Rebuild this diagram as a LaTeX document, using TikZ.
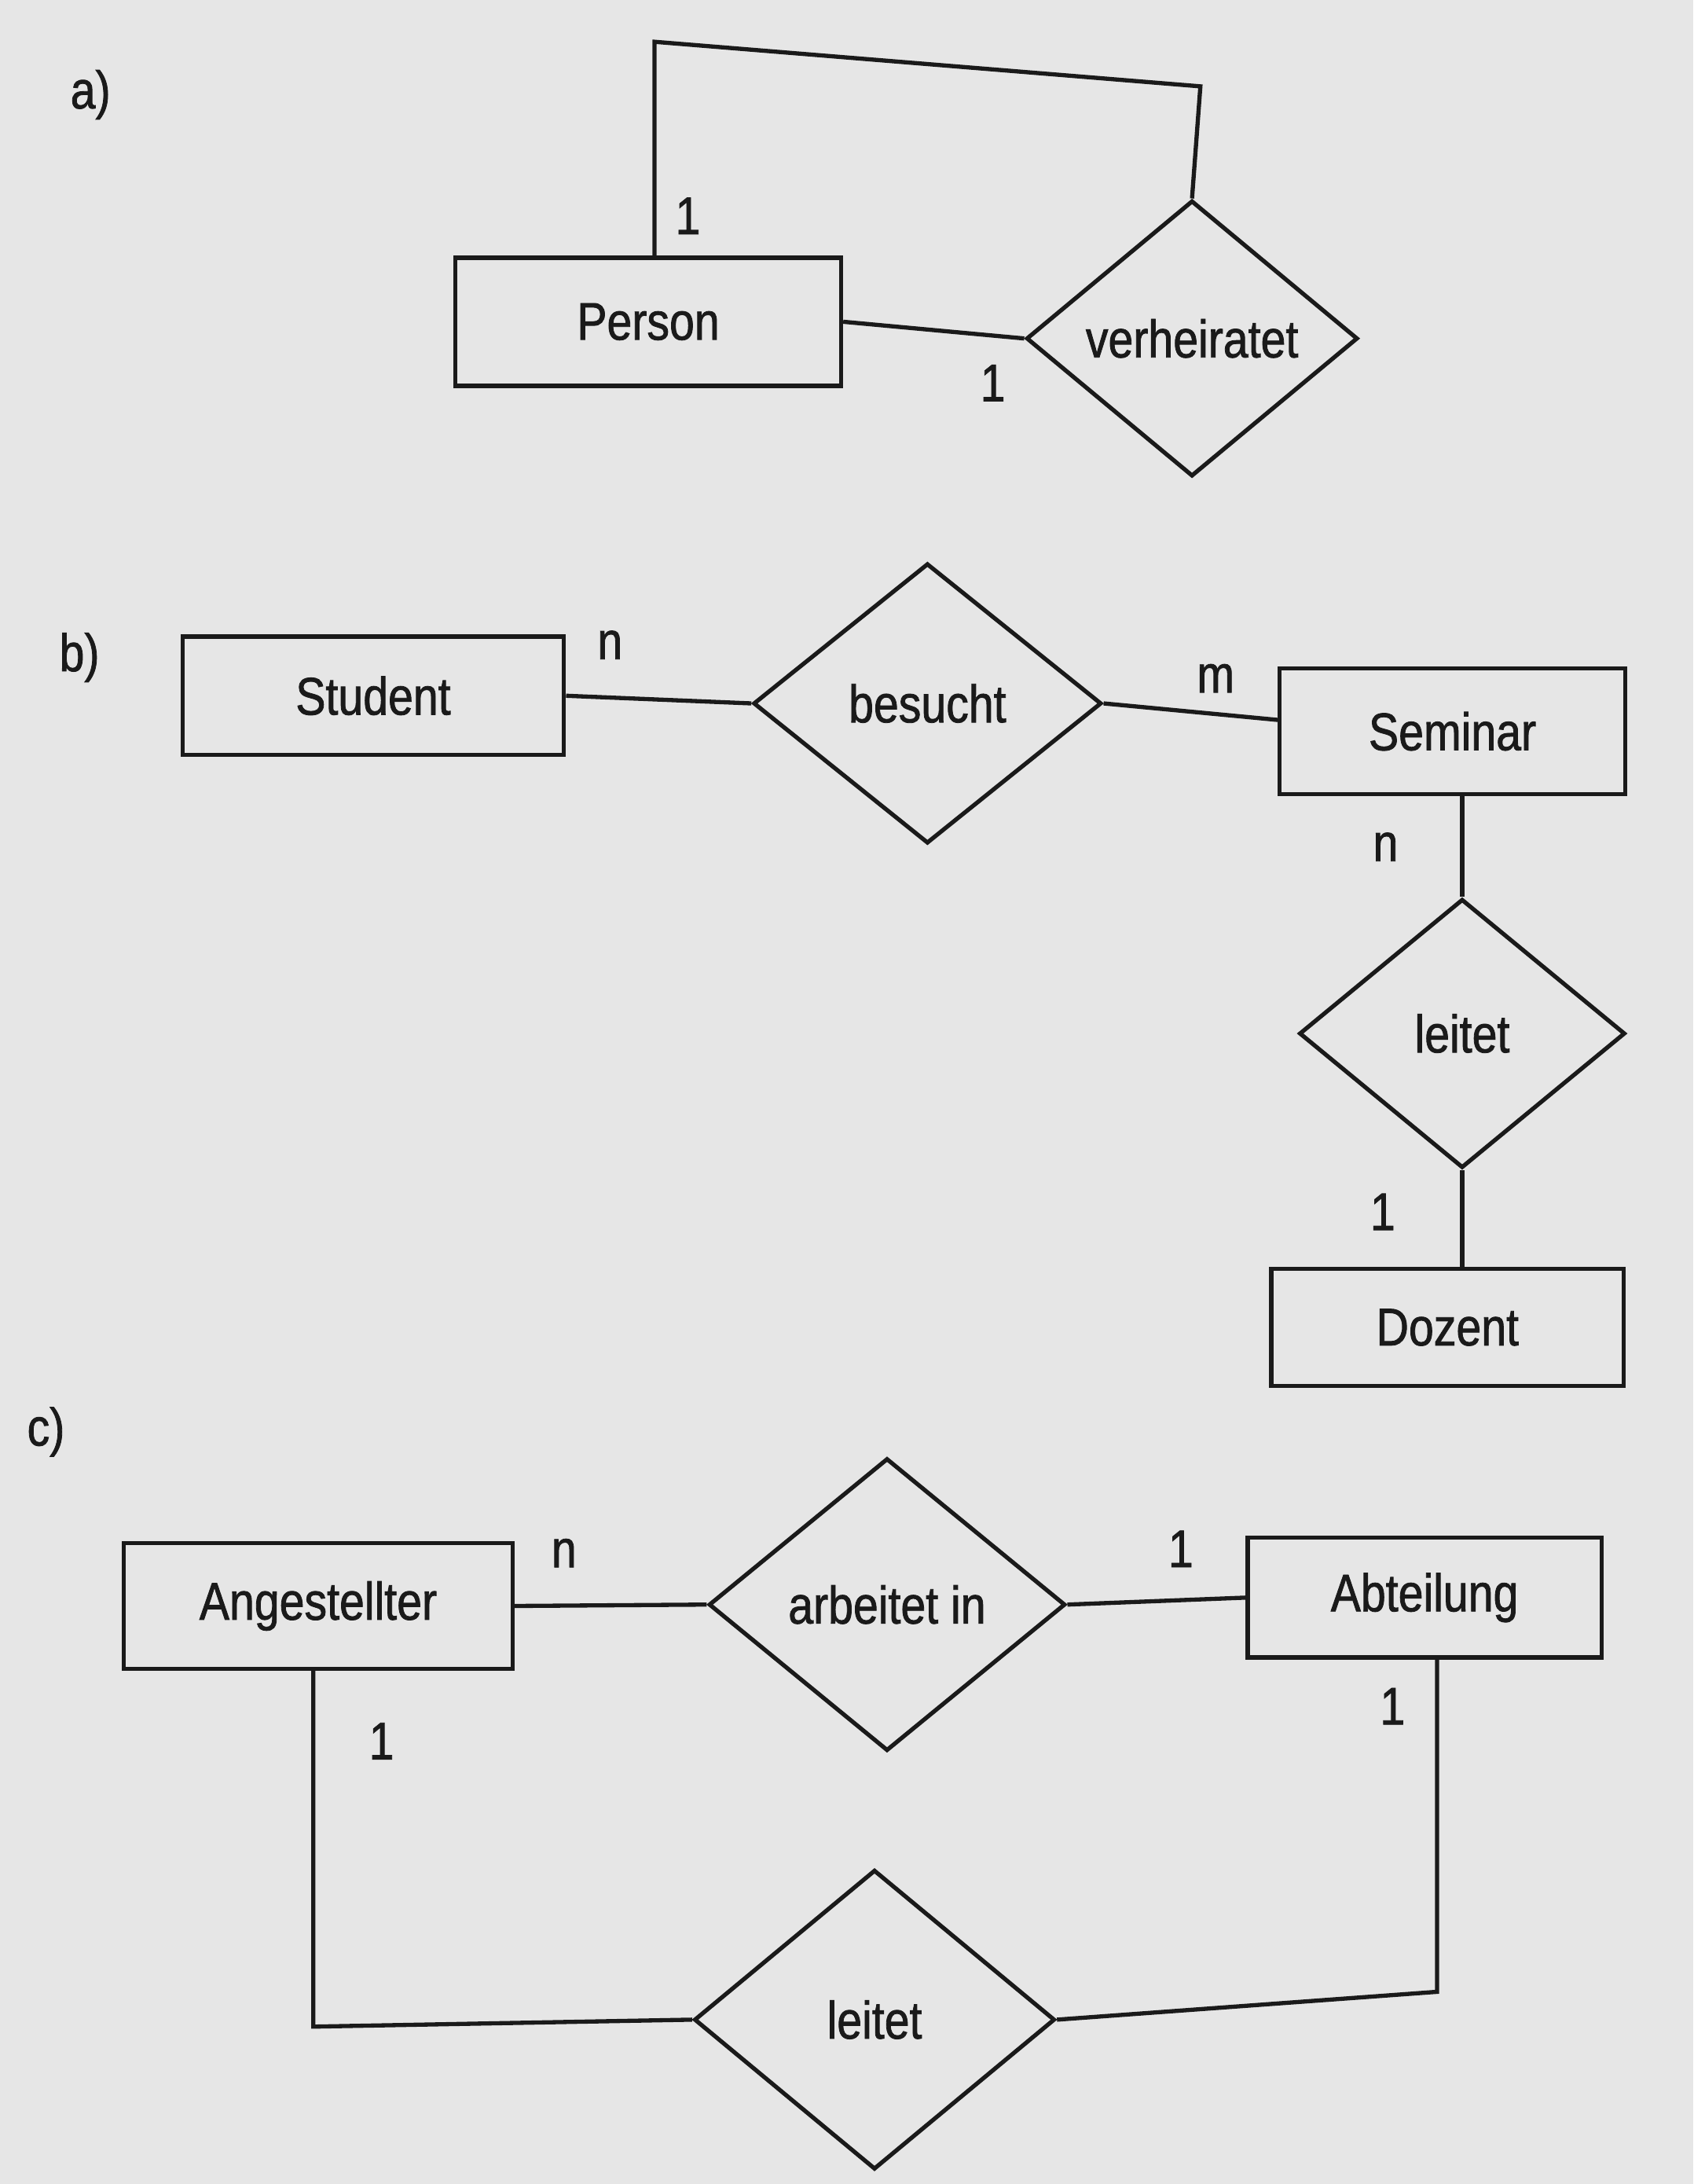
\documentclass[tikz,border=0pt]{standalone}
\usepackage{fontspec}
\setmainfont[FakeStretch=0.85,FakeBold=1.2]{Liberation Sans}
\usetikzlibrary{shapes.geometric}
\definecolor{paper}{HTML}{E6E6E6}
\definecolor{ink}{HTML}{1A1A1A}
\begin{document}
\begin{tikzpicture}[x=1pt,y=-1pt,
  every node/.style={font=\fontsize{38}{42}\selectfont, text=ink},
  entity/.style={draw=ink, line width=3pt, rectangle, inner sep=0pt},
  rel/.style={draw=ink, line width=3pt, diamond, inner sep=0pt},
  conn/.style={draw=ink, line width=3pt},
  card/.style={inner sep=0pt}]
\fill[paper] (0,0) rectangle (1216,1568);
\useasboundingbox (0,0) rectangle (1216,1568);

% a)
\node[card] (la) at (65,68) {a)};
\node[entity, minimum width=277pt, minimum height=92pt] (person) at (465.5,231) {Person};
\node[rel, minimum width=238pt, minimum height=198pt] (verh) at (856,243) {verheiratet};
\coordinate (a1) at (470,30);
\coordinate (a2) at (862,62);
\draw[conn] (person.east) -- (verh.west);
\draw[conn] (person.north -| a1) -- (a1) -- (a2) -- (verh.north);
\node[card] at (494,155) {1};
\node[card] at (713,275) {1};

% b)
\node[card] (lb) at (57,472) {b)};
\node[entity, minimum width=274pt, minimum height=85pt] (student) at (268,499.5) {Student};
\node[rel, minimum width=250pt, minimum height=201pt] (besucht) at (666,505) {besucht};
\node[entity, minimum width=248pt, minimum height=90pt] (seminar) at (1043,525) {Seminar};
\node[rel, minimum width=234pt, minimum height=193pt] (leitetb) at (1050,742) {leitet};
\node[entity, minimum width=253pt, minimum height=84pt] (dozent) at (1039.5,953) {Dozent};
\coordinate (b1) at (919,517);
\draw[conn] (student.east) -- (besucht.west);
\draw[conn] (besucht.east) -- (b1);
\draw[conn] (seminar.south -| leitetb.north) -- (leitetb.north);
\draw[conn] (leitetb.south) -- (dozent.north -| leitetb.south);
\node[card] at (438,463) {n};
\node[card] at (873,487) {m};
\node[card] at (995,608) {n};
\node[card] at (993,870) {1};

% c)
\node[card] (lc) at (33,1028) {c)};
\node[entity, minimum width=279pt, minimum height=90pt] (ang) at (228.5,1153) {Angestellter};
\node[rel, minimum width=256pt, minimum height=210pt] (arb) at (637,1152) {arbeitet in};
\node[entity, minimum width=254pt, minimum height=86pt] (abt) at (1023,1147) {Abteilung};
\node[rel, minimum width=259pt, minimum height=215pt] (leitetc) at (628,1450) {leitet};
\coordinate (c1) at (225,1455);
\coordinate (c2) at (1032,1430);
\draw[conn] (ang.east) -- (arb.west);
\draw[conn] (arb.east) -- (abt.west);
\draw[conn] (ang.south -| c1) -- (c1) -- (leitetc.west);
\draw[conn] (abt.south -| c2) -- (c2) -- (leitetc.east);
\node[card] at (405,1115) {n};
\node[card] at (848,1112) {1};
\node[card] at (274,1250) {1};
\node[card] at (1000,1225) {1};
\end{tikzpicture}
\end{document}
